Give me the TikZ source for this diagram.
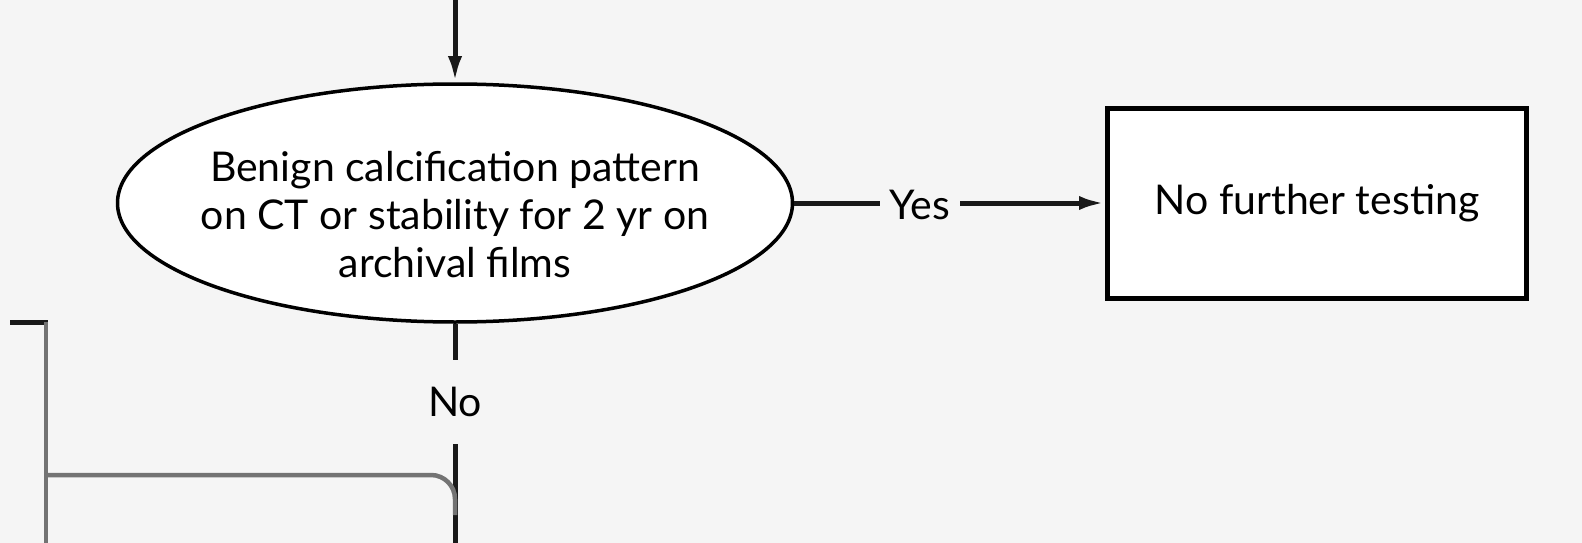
\documentclass[tikz,border=0pt]{standalone}
\usepackage{fontspec}
\setmainfont{Lato}
\usetikzlibrary{shapes.geometric,arrows.meta}

\begin{document}
\begin{tikzpicture}[x=1pt,y=-1pt,
  flowtext/.style={font=\fontsize{41}{48}\selectfont, align=center},
  flowline/.style={line width=5pt, black!90},
  feedline/.style={line width=4.5pt, black!55},
  flowarrow/.style={flowline, -{Latex[length=26pt,width=14pt]}}]

\def\flowbg{black!4}

% page and background
\useasboundingbox (0,0) rectangle (1582,543);
\fill[\flowbg] (0,0) rectangle (1582,543);

% question and outcome
\node[ellipse, draw, line width=3.5pt, fill=white, inner sep=0pt,
      minimum width=675, minimum height=238] (decision) at (455,203) {};
\node[flowtext, inner sep=0pt] (question) at (455,215)
  {Benign calcification pattern\\on CT or stability for 2 yr on\\archival films};
\node[flowtext, draw, line width=5pt, fill=white, inner sep=0pt,
      minimum width=419, minimum height=190] (stop) at (1317,203)
  {No further testing};

% branch labels
\node[flowtext, inner xsep=10pt] (yes) at (920,205) {Yes};
\node[flowtext, inner ysep=27pt] (no) at (455,402) {No};

% free ends
\coordinate (top) at (455,0);
\coordinate (bottom) at (455,543);
\coordinate (leftcorner) at (10,322);
\coordinate (leftbottom) at (46,543);

% lines
\draw[flowarrow] (top) -- (decision.north);
\draw[flowline] (decision.east) -- (decision.east -| yes.west);
\draw[flowarrow] (decision.east -| yes.east) -- (decision.east -| stop.west);
\draw[flowline] (decision.south) -- (no.north);
\draw[flowline] (no.south) -- (bottom);

% side return
\draw[flowline] (leftcorner) -- (48,322);
\draw[feedline] (46,322) -- (leftbottom);
\draw[feedline, rounded corners=24pt] (46,475) -- (455,475) -- (455,515);

\end{tikzpicture}
\end{document}
